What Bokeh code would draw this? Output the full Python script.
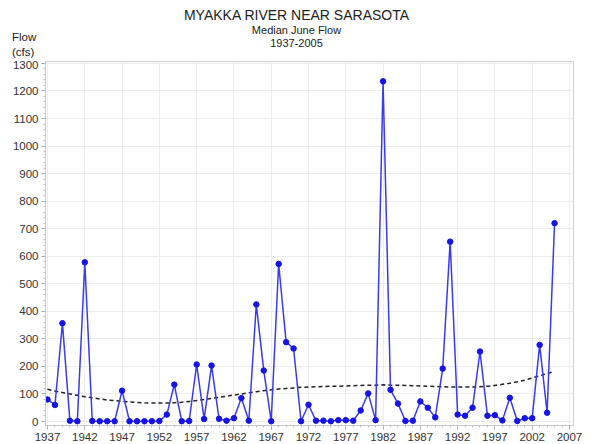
from bokeh.plotting import figure
from bokeh.models import Range1d, FixedTicker, ColumnDataSource, Div
from bokeh.layouts import column
from bokeh.embed import file_html
from bokeh.resources import INLINE

years = list(range(1937, 2006))
flow = [80, 60, 357, 3, 1, 578, 2, 1, 1, 1,
        112, 1, 1, 1, 1, 2, 25, 134, 1, 2,
        207, 9, 203, 10, 3, 12, 85, 3, 425, 185,
        1, 572, 288, 265, 1, 61, 3, 3, 1, 5,
        5, 3, 40, 102, 5, 1235, 115, 65, 2, 3,
        73, 50, 15, 192, 653, 25, 21, 50, 254, 21,
        23, 4, 86, 2, 12, 12, 278, 32, 720]
trend = [117, 111, 105, 100, 95, 90, 86, 82, 78, 76,
         73, 71, 69, 68, 67, 67, 67, 68, 70, 73,
         76, 80, 84, 88, 92, 96, 100, 104, 108, 112,
         115, 118, 120, 122, 124, 125, 126, 127, 128, 128,
         129, 130, 131, 132, 132, 133, 132, 132, 131, 130,
         129, 128, 127, 126, 125, 125, 125, 125, 126, 128,
         131, 135, 139, 144, 150, 158, 166, 174, 182]
x_ticks = list(range(1937, 2008, 5))
y_ticks = list(range(0, 1301, 100))

title = "MYAKKA RIVER NEAR SARASOTA"
subtitle = "Median June Flow"
period = "1937-2005"
unit_lines = ["Flow", "(cfs)"]

src = ColumnDataSource(dict(year=years, flow=flow, trend=trend))

HEAD = 60
p = figure(width=593, height=444 - HEAD, output_backend="svg", toolbar_location=None,
           x_range=Range1d(1936.73, 2007.54), y_range=Range1d(-14.5, 1307),
           min_border_left=45, min_border_right=20, min_border_top=1, min_border_bottom=19)

p.outline_line_color = "#cfcfcf"
p.background_fill_color = "white"
p.xgrid.grid_line_color = "#ececec"
p.ygrid.grid_line_color = "#ececec"

p.xaxis.ticker = FixedTicker(ticks=x_ticks, minor_ticks=list(range(1937, 2008)))
p.yaxis.ticker = FixedTicker(ticks=y_ticks, minor_ticks=list(range(0, 1301, 20)))
for ax in (p.xaxis[0], p.yaxis[0]):
    ax.axis_line_color = "#c8c8c8"
    ax.major_tick_line_color = "#a0a0a0"
    ax.minor_tick_line_color = "#c0c0c0"
    ax.major_tick_out = 4
    ax.major_tick_in = 0
    ax.minor_tick_out = 2
    ax.minor_tick_in = 0
    ax.major_label_text_font = "Liberation Sans"
    ax.major_label_text_font_size = "11.5px"
    ax.major_label_text_color = "#333333"
    ax.major_label_standoff = 3

p.line("year", "trend", source=src, line_color="#222222", line_width=1.5, line_dash="4 3")
p.line("year", "flow", source=src, line_color="#3a3af0", line_width=1.5)
p.scatter("year", "flow", source=src, size=5.5, fill_color="#1414e6", line_color="#1414e6")

def span(txt, top, size, left=None):
    base = ("position:absolute;top:%dpx;line-height:%dpx;font-family:'Liberation Sans',Arial,sans-serif;"
            "font-size:%s;color:#222;white-space:nowrap;" % (top, 16, size))
    if left is None:
        base += "left:0;width:593px;text-align:center;"
    else:
        base += "left:%dpx;" % left
    return '<div style="%s">%s</div>' % (base, txt)

html = ('<div style="position:relative;width:593px;height:%dpx;margin:0;padding:0;">' % HEAD
        + span(title, 7, "14px")
        + span(subtitle, 22, "11px")
        + span(period, 35, "11px")
        + span(unit_lines[0], 29, "11.5px", 12)
        + span(unit_lines[1], 44, "11.5px", 12)
        + '</div>')
head = Div(text=html, width=593, height=HEAD, margin=0)

layout = column(head, p, spacing=0, margin=0)
open("out.html", "w").write(file_html(layout, INLINE))
